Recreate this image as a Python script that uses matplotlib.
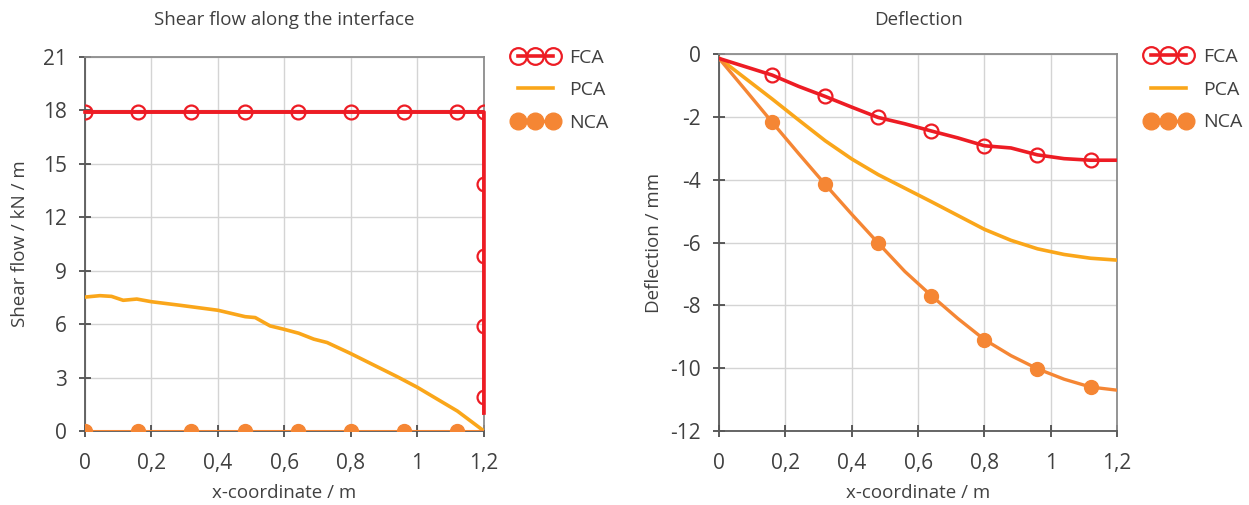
import matplotlib
matplotlib.use("Agg")
import matplotlib.pyplot as plt
from matplotlib.ticker import FuncFormatter
from matplotlib.lines import Line2D
from matplotlib.legend_handler import HandlerLine2D

plt.rcParams['font.family'] = ['Open Sans', 'DejaVu Sans']
plt.rcParams['text.color'] = '#404040'
plt.rcParams['axes.labelcolor'] = '#404040'
plt.rcParams['xtick.color'] = '#404040'
plt.rcParams['ytick.color'] = '#404040'

RED = '#ed1c24'
YELLOW = '#faa61a'
ORANGE = '#f58634'

# --- shear flow along the interface ---
sf_fca_x = [0, 0.16, 0.32, 0.48, 0.64, 0.80, 0.96, 1.12, 1.2, 1.2, 1.2, 1.2, 1.2, 1.2]
sf_fca_y = [17.9, 17.9, 17.9, 17.9, 17.9, 17.9, 17.9, 17.9, 17.9, 13.85, 9.85, 5.9, 1.9, 1.0]
sf_fca_marks = list(range(13))

sf_pca_x = [0, 0.045, 0.08, 0.115, 0.156, 0.2, 0.286, 0.4, 0.482, 0.512, 0.557,
            0.597, 0.643, 0.688, 0.728, 0.798, 0.939, 0.999, 1.12, 1.2]
sf_pca_y = [7.52, 7.6, 7.56, 7.34, 7.41, 7.26, 7.06, 6.78, 6.42, 6.37, 5.9,
            5.72, 5.49, 5.16, 4.97, 4.36, 3.05, 2.46, 1.12, 0.0]

sf_nca_x = [0, 0.16, 0.32, 0.48, 0.64, 0.80, 0.96, 1.12, 1.2]
sf_nca_y = [0, 0, 0, 0, 0, 0, 0, 0, 0]
sf_nca_marks = list(range(8))

# --- deflection ---
df_fca_x = [0, 0.16, 0.24, 0.32, 0.40, 0.48, 0.56, 0.64, 0.72, 0.80, 0.88, 0.96, 1.04, 1.12, 1.2]
df_fca_y = [-0.14, -0.67, -1.03, -1.35, -1.69, -2.02, -2.22, -2.45, -2.67, -2.92, -2.99,
            -3.21, -3.33, -3.38, -3.38]
df_fca_marks = [1, 3, 5, 7, 9, 11, 13]

df_pca_x = [0, 0.08, 0.16, 0.24, 0.32, 0.40, 0.48, 0.56, 0.64, 0.72, 0.80, 0.88, 0.96, 1.04, 1.12, 1.2]
df_pca_y = [-0.13, -0.78, -1.43, -2.1, -2.76, -3.34, -3.84, -4.27, -4.7, -5.14, -5.58, -5.93,
            -6.2, -6.38, -6.5, -6.56]

df_nca_x = [0, 0.08, 0.16, 0.24, 0.32, 0.40, 0.48, 0.56, 0.64, 0.72, 0.80, 0.88, 0.96, 1.04, 1.12, 1.2]
df_nca_y = [-0.14, -1.15, -2.17, -3.17, -4.15, -5.1, -6.02, -6.92, -7.69, -8.42, -9.09, -9.6,
            -10.02, -10.35, -10.6, -10.7]
df_nca_marks = [2, 4, 6, 8, 10, 12, 14]


def comma(v, pos):
    return ('%g' % round(v, 2)).replace('.', ',')


def style(ax):
    ax.set_xlim(0, 1.2)
    ax.set_xticks([0, 0.2, 0.4, 0.6, 0.8, 1.0, 1.2])
    ax.xaxis.set_major_formatter(FuncFormatter(comma))
    ax.yaxis.set_major_formatter(FuncFormatter(comma))
    ax.grid(True, color='#d4d4d4', lw=1)
    ax.set_axisbelow(True)
    for s in ['top', 'right']:
        ax.spines[s].set_color('#8c8c8c')
        ax.spines[s].set_linewidth(1.3)
    for s in ['left', 'bottom']:
        ax.spines[s].set_color('#595959')
        ax.spines[s].set_linewidth(1.3)
    ax.tick_params(direction='inout', length=8, width=1.2, color='#404040',
                   labelsize=15, pad=9)
    ax.tick_params(axis='x', pad=12)
    ax.set_xlabel('x-coordinate / m', fontsize=13.5, labelpad=7)


fig = plt.figure(figsize=(12.49, 5.05), dpi=100)
ax1 = fig.add_axes([0.068, 0.1465, 0.3195, 0.7406])
ax2 = fig.add_axes([0.5757, 0.1465, 0.3187, 0.7465])

# FCA line is not clipped at the right edge, its markers are
ax1.plot(sf_fca_x, sf_fca_y, color=RED, lw=2.6, clip_on=False, zorder=4)
ax1.plot(sf_fca_x, sf_fca_y, color=RED, lw=2.6, marker='o', ms=10, mfc='none',
         mec=RED, mew=1.6, markevery=sf_fca_marks, label='FCA', zorder=4)
ax1.plot(sf_pca_x, sf_pca_y, color=YELLOW, lw=2.6, label='PCA', zorder=3)
ax1.plot(sf_nca_x, sf_nca_y, color=ORANGE, lw=2.2, marker='o', ms=10, mfc=ORANGE,
         mec=ORANGE, markevery=sf_nca_marks, label='NCA', zorder=3)
style(ax1)
ax1.set_ylim(0, 21)
ax1.set_yticks(range(0, 22, 3))
ax1.set_ylabel('Shear flow / kN / m', fontsize=13.5, labelpad=10)
ax1.set_title('Shear flow along the interface', fontsize=13.5, pad=23)

ax2.plot(df_fca_x, df_fca_y, color=RED, lw=2.6, marker='o', ms=10, mfc='none',
         mec=RED, mew=1.6, markevery=df_fca_marks, label='FCA', zorder=4)
ax2.plot(df_pca_x, df_pca_y, color=YELLOW, lw=2.6, label='PCA', zorder=3)
ax2.plot(df_nca_x, df_nca_y, color=ORANGE, lw=2.4, marker='o', ms=10, mfc=ORANGE,
         mec=ORANGE, markevery=df_nca_marks, label='NCA', zorder=3)
style(ax2)
ax2.set_ylim(-12, 0)
ax2.set_yticks(range(-12, 1, 2))
ax2.set_ylabel('Deflection / mm', fontsize=13.5, labelpad=5)
ax2.set_title('Deflection', fontsize=13.5, pad=21)

for ax, top in ((ax1, 1.043), (ax2, 1.036)):
    ax.legend(loc='upper left', bbox_to_anchor=(1.044, top), frameon=False,
              numpoints=3, handlelength=2.68, handletextpad=0.42, fontsize=14,
              labelspacing=0.75, borderaxespad=0.0, borderpad=0.4,
              markerscale=1.2, handler_map={Line2D: HandlerLine2D(marker_pad=0.43)})

fig.savefig('out.png', dpi=100)
